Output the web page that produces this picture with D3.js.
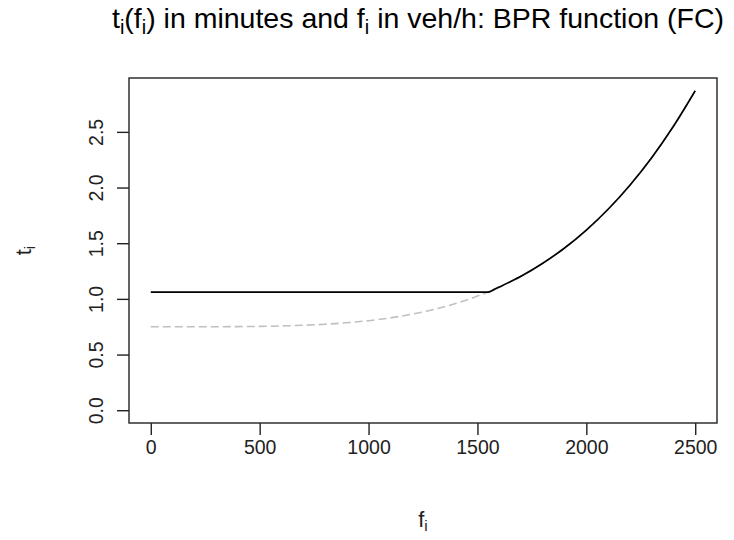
<!DOCTYPE html>
<html>
<head>
<meta charset="utf-8">
<script src="https://cdn.jsdelivr.net/npm/d3@7"></script>
<style>
  html, body { margin: 0; padding: 0; background: #fff; }
  svg { display: block; font-family: "Liberation Sans", Arial, sans-serif; }
</style>
</head>
<body>
<svg id="chart" width="734" height="540"></svg>
<script>
// ---- Data ----
const flowDashed = [0, 100, 200, 300, 400, 500, 600, 700, 800, 900, 1000, 1100, 1200, 1300, 1400, 1500,
                    1600, 1700, 1800, 1900, 2000, 2100, 2200, 2300, 2400, 2500];
const timeDashed = [0.750, 0.750, 0.750, 0.750, 0.751, 0.753, 0.757, 0.763, 0.772, 0.786, 0.804, 0.829,
                    0.863, 0.905, 0.958, 1.025, 1.106, 1.203, 1.320, 1.457, 1.618, 1.805, 2.021, 2.268,
                    2.550, 2.869];
const flowSolid = [0, 1548, 1575, 1600, 1700, 1800, 1900, 2000, 2100, 2200, 2300, 2400, 2500];
const timeSolid = [1.06, 1.06, 1.083, 1.106, 1.203, 1.320, 1.457, 1.618, 1.805, 2.021, 2.268, 2.550, 2.869];
const xTicks = [0, 500, 1000, 1500, 2000, 2500];
const yTicks = [0.0, 0.5, 1.0, 1.5, 2.0, 2.5];

// ---- Layout ----
const svg = d3.select("#chart");
const box = { left: 129, right: 717, top: 78, bottom: 423 };

const xMin = 0, xMax = 2500, yMin = 0, yMax = d3.max(timeDashed);
const xPad = (xMax - xMin) * 0.04, yPad = (yMax - yMin) * 0.04;
const x = d3.scaleLinear().domain([xMin - xPad, xMax + xPad]).range([box.left, box.right]);
const y = d3.scaleLinear().domain([yMin - yPad, yMax + yPad]).range([box.bottom, box.top]);

function sub(t, txt) {
  t.append("tspan").attr("baseline-shift", "-28%").attr("font-size", "70%").text(txt);
}

// Title
const title = svg.append("text")
  .attr("x", 418).attr("y", 28)
  .attr("text-anchor", "middle").attr("font-size", 28.5).attr("fill", "#000");
title.append("tspan").text("t"); sub(title, "i");
title.append("tspan").text("(f"); sub(title, "i");
title.append("tspan").text(") in minutes and f"); sub(title, "i");
title.append("tspan").text(" in veh/h: BPR function (FC)");

// Lines
const lineDashed = d3.line().x((d, i) => x(flowDashed[i])).y((d, i) => y(timeDashed[i])).curve(d3.curveMonotoneX);
svg.append("path").datum(timeDashed)
  .attr("d", lineDashed)
  .attr("fill", "none").attr("stroke", "#c0c0c0").attr("stroke-width", 1.6)
  .attr("stroke-dasharray", "8,4");

const lineSolid = d3.line().x((d, i) => x(flowSolid[i])).y((d, i) => y(timeSolid[i])).curve(d3.curveMonotoneX);
svg.append("path").datum(timeSolid)
  .attr("d", lineSolid)
  .attr("fill", "none").attr("stroke", "#000").attr("stroke-width", 1.7);

// Box
svg.append("rect")
  .attr("x", box.left).attr("y", box.top)
  .attr("width", box.right - box.left).attr("height", box.bottom - box.top)
  .attr("fill", "none").attr("stroke", "#222").attr("stroke-width", 1.4);

// X axis
const xAxis = d3.axisBottom(x).tickValues(xTicks).tickSize(12).tickPadding(5).tickFormat(d3.format("d"));
const gx = svg.append("g").attr("transform", `translate(0,${box.bottom})`).call(xAxis);
gx.select(".domain").remove();
gx.selectAll(".tick line").attr("stroke", "#222").attr("stroke-width", 1.4);
gx.selectAll("text").attr("font-size", 19.5).attr("fill", "#222").attr("font-family", "Liberation Sans, Arial, sans-serif");

// Y axis
const yAxis = d3.axisLeft(y).tickValues(yTicks).tickSize(12).tickFormat(d3.format(".1f"));
const gy = svg.append("g").attr("transform", `translate(${box.left},0)`).call(yAxis);
gy.select(".domain").remove();
gy.selectAll(".tick line").attr("stroke", "#222").attr("stroke-width", 1.4);
gy.selectAll("text")
  .attr("font-size", 19.5).attr("fill", "#222").attr("font-family", "Liberation Sans, Arial, sans-serif")
  .attr("x", 0).attr("dy", 0)
  .attr("text-anchor", "middle")
  .attr("transform", "translate(-26,0) rotate(-90)");

// Axis titles
const xl = svg.append("text").attr("x", 423).attr("y", 527)
  .attr("text-anchor", "middle").attr("font-size", 22).attr("fill", "#222");
xl.append("tspan").text("f"); sub(xl, "i");

const yl = svg.append("text")
  .attr("transform", `translate(31,${(box.top + box.bottom) / 2}) rotate(-90)`)
  .attr("text-anchor", "middle").attr("font-size", 22).attr("fill", "#222");
yl.append("tspan").text("t"); sub(yl, "i");
</script>
</body>
</html>
